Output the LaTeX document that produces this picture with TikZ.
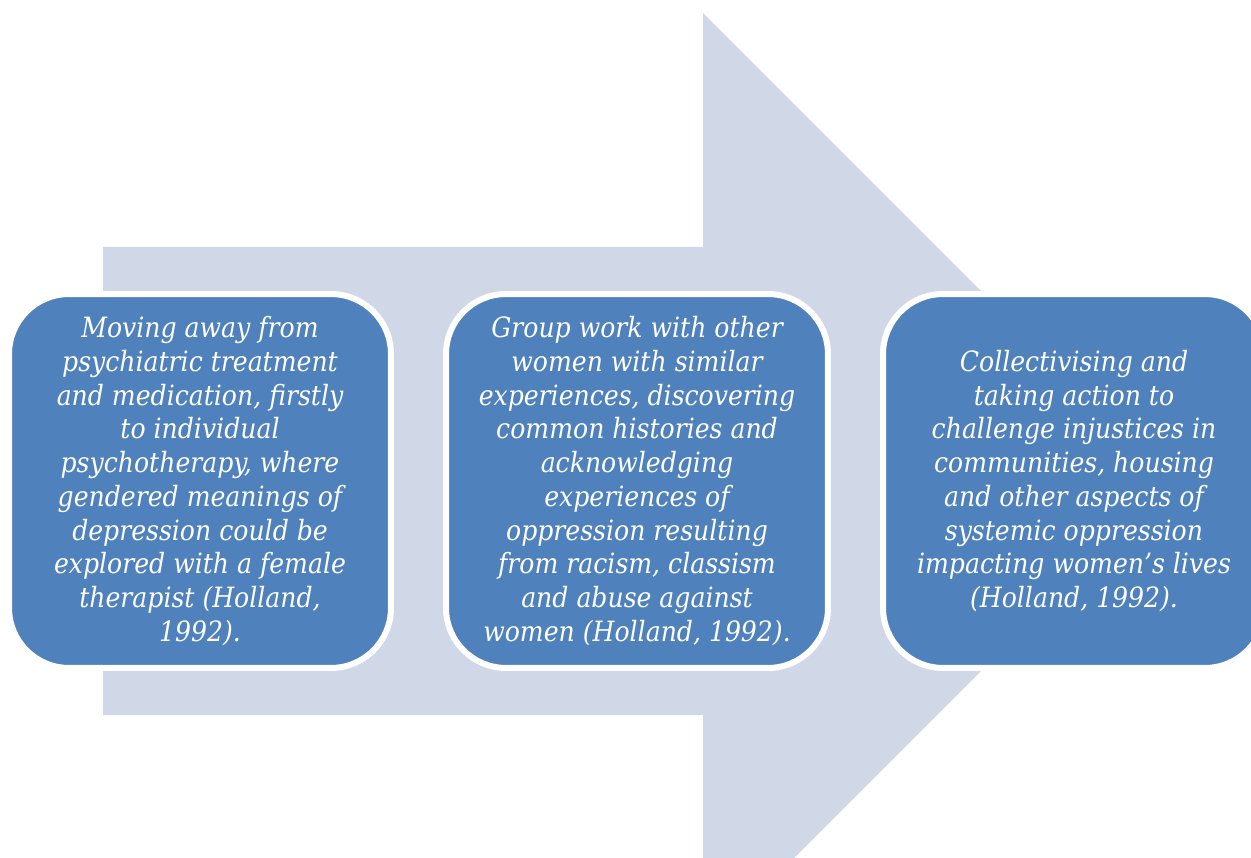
\documentclass[tikz,border=0pt]{standalone}
\usepackage{fontspec}
\setmainfont{DejaVu Serif Condensed}
\begin{document}
\begin{tikzpicture}[x=0.02cm,y=-0.02cm]
\definecolor{arrowfill}{RGB}{208,216,232}
\definecolor{boxfill}{RGB}{79,129,189}
\tikzset{stage/.style={draw=white, line width=0.12cm, fill=boxfill,
    rounded corners=1.2cm, minimum width=7.64cm, minimum height=7.48cm,
    text=white, align=center, inner sep=0pt,
    font=\itshape\fontsize{15.9}{19.2}\selectfont}}
\useasboundingbox (0,0) rectangle (1251,858);
\clip (0,0) rectangle (1251,858);
% broad block arrow behind the stages
\fill[arrowfill] (103,247) -- (703,247) -- (703,13) -- (1171,481)
  -- (703,949) -- (703,715) -- (103,715) -- cycle;
% the three stages
\node[stage] (s1) at (200,481) {Moving away from\\psychiatric treatment\\and medication, firstly\\to individual\\psychotherapy, where\\gendered meanings of\\depression could be\\explored with a female\\therapist (Holland,\\1992).};
\node[stage] (s2) at (637,481) {Group work with other\\women with similar\\experiences, discovering\\common histories and\\acknowledging\\experiences of\\oppression resulting\\from racism, classism\\and abuse against\\women (Holland, 1992).};
\node[stage] (s3) at (1074,481) {Collectivising and\\taking action to\\challenge injustices in\\communities, housing\\and other aspects of\\systemic oppression\\impacting women’s lives\\(Holland, 1992).};
\end{tikzpicture}
\end{document}
